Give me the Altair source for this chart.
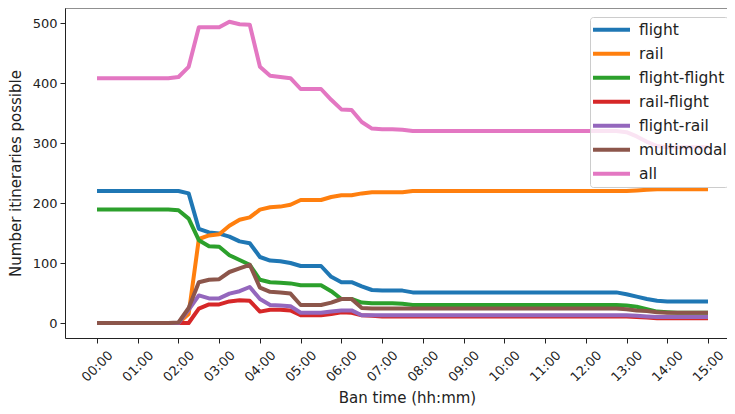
import altair as alt
import pandas as pd

# x grid: ban times every 15 minutes from 00:00 to 15:00
times = [f"{h:02d}:{m:02d}" for h in range(16) for m in (0, 15, 30, 45)][:61]
hours = [int(t[:2]) + int(t[3:]) / 60 for t in times]
tick_hours = list(range(16))

series_names = ["flight", "rail", "flight-flight", "rail-flight", "flight-rail", "multimodal", "all"]
series_colors = ["#1f77b4", "#ff7f0e", "#2ca02c", "#d62728", "#9467bd", "#8c564b", "#e377c2"]

flight = [220, 220, 220, 220, 220, 220, 220, 220, 220,
          216, 157, 151, 149, 144, 136, 133, 110, 104, 103, 100,
          95, 95, 95, 77, 68, 68, 61, 55, 54, 54, 54, 51,
          51, 51, 51, 51, 51, 51, 51, 51, 51, 51, 51, 51, 51, 51, 51, 51, 51, 51, 51, 51,
          48, 44, 40, 37, 36, 36, 36, 36, 36]
rail = [0, 0, 0, 0, 0, 0, 0, 0, 0,
        15, 140, 146, 148, 162, 172, 176, 189, 193, 194, 197,
        205, 205, 205, 210, 213, 213, 216, 218, 218, 218, 218, 220,
        220, 220, 220, 220, 220, 220, 220, 220, 220, 220, 220, 220, 220, 220, 220, 220, 220, 220, 220, 220,
        220, 221, 222, 223, 223, 223, 223, 223, 223]
flight_flight = [189, 189, 189, 189, 189, 189, 189, 189, 188,
                 174, 138, 128, 127, 113, 105, 97, 72, 68, 67, 66,
                 63, 63, 63, 53, 40, 40, 34, 33, 33, 33, 32, 30,
                 30, 30, 30, 30, 30, 30, 30, 30, 30, 30, 30, 30, 30, 30, 30, 30, 30, 30, 30, 30,
                 29, 27, 23, 19, 18, 17, 17, 17, 17]
rail_flight = [0, 0, 0, 0, 0, 0, 0, 0, 0,
               0, 24, 31, 31, 36, 38, 37, 19, 22, 22, 21,
               13, 13, 13, 15, 18, 17, 13, 12, 11, 11, 11, 11,
               11, 11, 11, 11, 11, 11, 11, 11, 11, 11, 11, 11, 11, 11, 11, 11, 11, 11, 11, 11,
               11, 10, 9, 8, 8, 8, 8, 8, 8]
flight_rail = [0, 0, 0, 0, 0, 0, 0, 0, 0,
               22, 46, 41, 41, 49, 53, 60, 40, 30, 29, 28,
               17, 17, 17, 19, 21, 21, 13, 13, 13, 13, 13, 13,
               13, 13, 13, 13, 13, 13, 13, 13, 13, 13, 13, 13, 13, 13, 13, 13, 13, 13, 13, 13,
               13, 12, 11, 10, 10, 10, 10, 10, 10]
multimodal = [0, 0, 0, 0, 0, 0, 0, 0, 1,
              25, 68, 72, 73, 85, 91, 97, 59, 52, 51, 49,
              30, 30, 30, 34, 40, 40, 25, 24, 24, 24, 24, 24,
              24, 24, 24, 24, 24, 24, 24, 24, 24, 24, 24, 24, 24, 24, 24, 24, 24, 24, 24, 24,
              23, 21, 20, 18, 17, 17, 17, 17, 17]
all_itin = [408, 408, 408, 408, 408, 408, 408, 408, 410,
            427, 493, 493, 493, 502, 498, 497, 427, 412, 410, 408,
            390, 390, 390, 372, 356, 355, 335, 324, 323, 323, 322, 320,
            320, 320, 320, 320, 320, 320, 320, 320, 320, 320, 320, 320, 320, 320, 320, 320, 320, 320, 320, 320,
            318, 311, 302, 295, 293, 293, 293, 293, 293]

series_values = [flight, rail, flight_flight, rail_flight, flight_rail, multimodal, all_itin]

rows = []
for name, vals in zip(series_names, series_values):
    for t, h, v in zip(times, hours, vals):
        rows.append({"series": name, "time": t, "hour": h, "value": v})
df = pd.DataFrame(rows)

FONT = "DejaVu Sans"
TXT = "#222222"

color = alt.Color(
    "series:N",
    scale=alt.Scale(domain=series_names, range=series_colors),
    title=None,
    legend=alt.Legend(
        orient="none", legendX=525, legendY=9, padding=1, rowPadding=0,
        clipHeight=23.4, symbolType="stroke", symbolStrokeWidth=4, symbolSize=1369,
        labelFont=FONT, labelFontSize=15.5, labelColor=TXT, labelOffset=7,
        fillColor="rgba(255,255,255,0.8)", strokeColor="#cccccc", cornerRadius=3,
    ),
)

x = alt.X(
    "hour:Q",
    scale=alt.Scale(domain=[-0.786, 15.467], nice=False, zero=False),
    axis=alt.Axis(
        values=tick_hours,
        labelExpr="(datum.value < 10 ? '0' : '') + datum.value + ':00'",
        title="Ban time (hh:mm)", grid=False,
        labelAngle=315, labelAlign="center", labelBaseline="middle", labelPadding=23,
        titleX=342, titleY=59, titleBaseline="middle",
    ),
)
y = alt.Y(
    "value:Q",
    scale=alt.Scale(domain=[-25, 525], nice=False, zero=False),
    axis=alt.Axis(
        values=[0, 100, 200, 300, 400, 500], title="Number itineraries possible", grid=False,
        labelPadding=3, titleX=-50, titleY=165, titleBaseline="middle",
    ),
)

# top spine of the frame (the right side is cut off in the reference)
top_spine = alt.Chart(pd.DataFrame({"edge": ["top"]})).mark_rule(
    color=TXT, strokeWidth=1
).encode(y=alt.value(0))

base = alt.Chart(df)
layers = [
    base.transform_filter(alt.datum.series == name)
    .mark_line(strokeWidth=4, strokeJoin="round", strokeCap="butt")
    .encode(x=x, y=y, color=color)
    for name in series_names
]

chart = (
    alt.layer(top_spine, *layers)
    .properties(
        width=662, height=330,
        autosize=alt.AutoSizeParams(type="none"),
        padding={"left": 57, "top": 0, "right": 0, "bottom": 68},
    )
    .configure_view(stroke=None)
    .configure_axis(
        domain=True, domainColor=TXT, domainWidth=1, tickColor=TXT, tickSize=5,
        labelFont=FONT, labelFontSize=13,
        labelColor=TXT, titleFont=FONT, titleFontSize=15, titleFontWeight="normal",
        titleColor=TXT,
    )
)

chart.save("out.html", embed_options={"renderer": "svg", "actions": False})
